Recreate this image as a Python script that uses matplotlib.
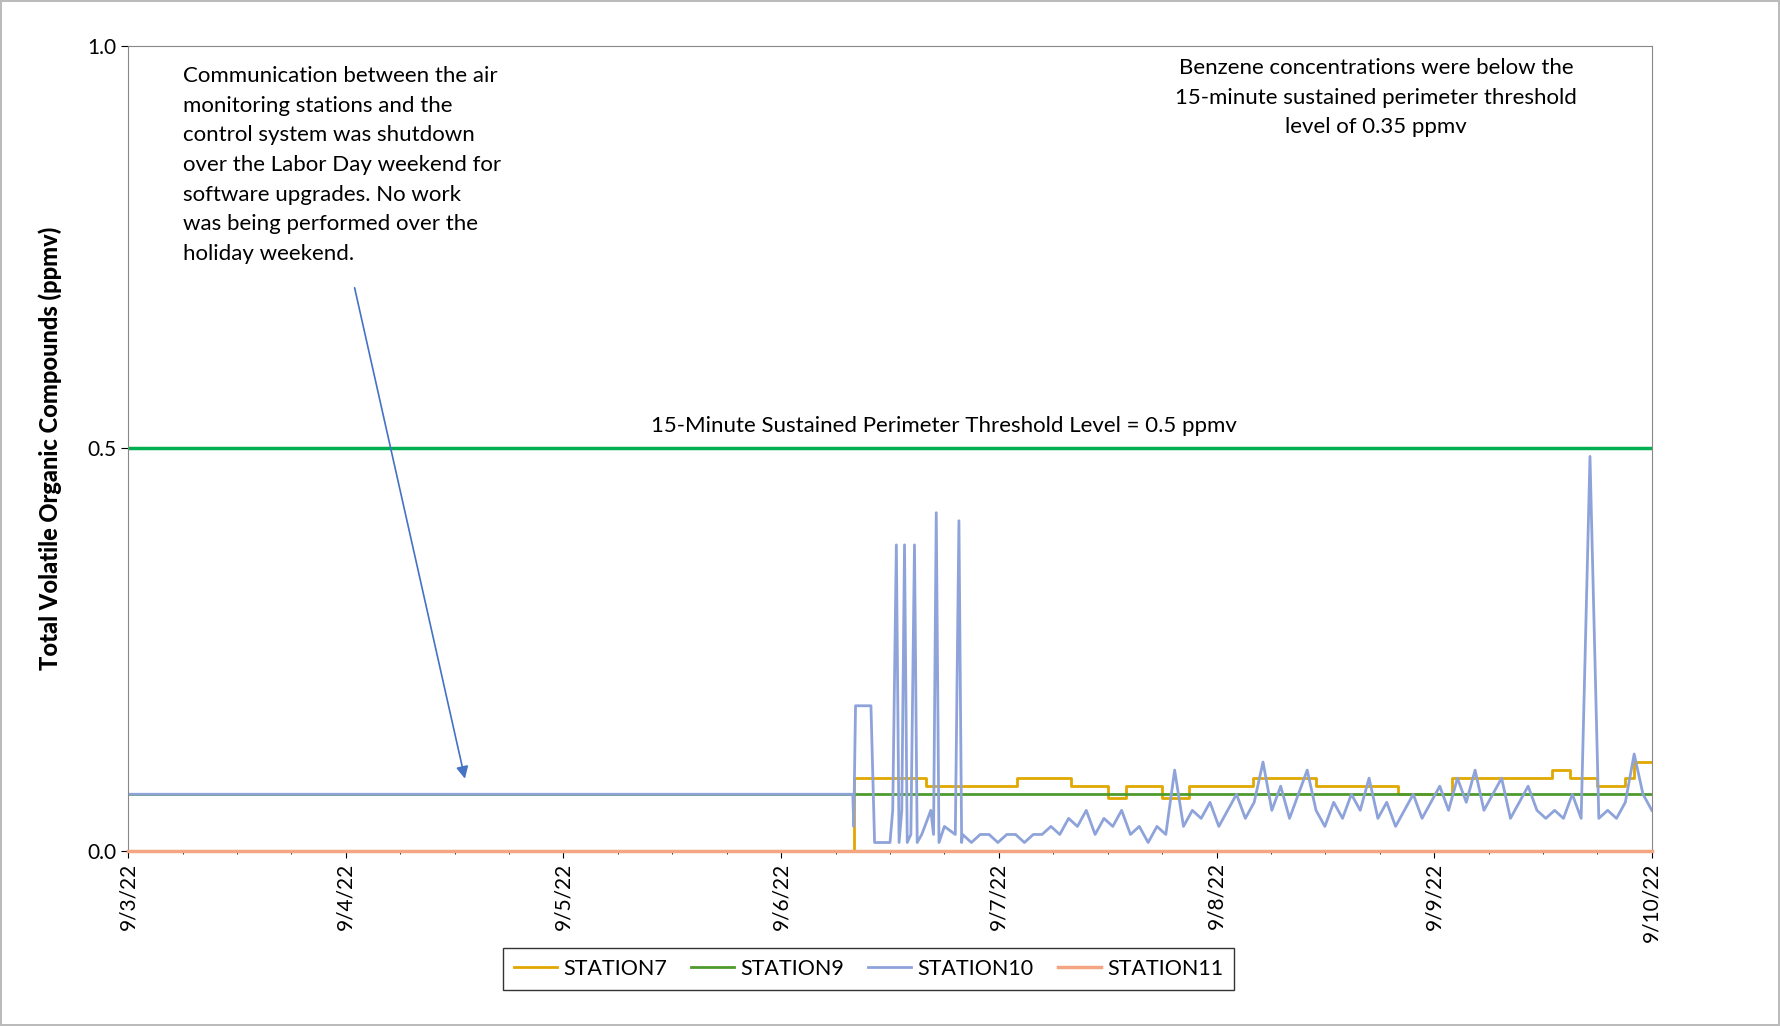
import matplotlib.pyplot as plt
from matplotlib.ticker import MultipleLocator

plt.rcParams['font.family'] = ['Lato', 'DejaVu Sans']

# hours since 9/3/22 00:00
s10_early_t = [0, 79.9, 80.0, 80.2, 81.9, 82.3, 84.0, 84.3, 84.7, 85.0, 85.3, 85.6, 85.9, 86.3, 86.7, 87.0,
               87.5, 88.5, 88.8, 89.1, 89.4, 90.0, 91.2, 91.6, 91.9]
s10_early_v = [0.07, 0.07, 0.03, 0.18, 0.18, 0.01, 0.01, 0.05, 0.38, 0.01, 0.05, 0.38, 0.01, 0.02, 0.38, 0.01,
               0.02, 0.05, 0.02, 0.42, 0.01, 0.03, 0.02, 0.41, 0.01]
s10_late = [0.02, 0.01, 0.02, 0.02, 0.01, 0.02, 0.02, 0.01, 0.02,
            0.02, 0.03, 0.02, 0.04, 0.03, 0.05, 0.02, 0.04, 0.03, 0.05, 0.02, 0.03, 0.01,
            0.03, 0.02, 0.10, 0.03, 0.05, 0.04, 0.06, 0.03,
            0.05, 0.07, 0.04, 0.06, 0.11, 0.05, 0.08, 0.04, 0.07, 0.10, 0.05, 0.03,
            0.06, 0.04, 0.07, 0.05, 0.09, 0.04, 0.06, 0.03, 0.05, 0.07, 0.04, 0.06,
            0.08, 0.05, 0.09, 0.06, 0.10, 0.05, 0.07, 0.09, 0.04, 0.06, 0.08, 0.05,
            0.04, 0.05, 0.04, 0.07, 0.04, 0.49, 0.04, 0.05, 0.04, 0.06, 0.12, 0.07, 0.05]
s10_late_t = [92 + i * 76 / (len(s10_late) - 1) for i in range(len(s10_late))]

s7_t = [0, 80, 88, 98, 104, 108, 110, 114, 117, 124, 131, 140, 146, 157, 159, 162, 165, 166, 168]
s7_v = [0, 0.09, 0.08, 0.09, 0.08, 0.065, 0.08, 0.065, 0.08, 0.09, 0.08, 0.07, 0.09, 0.10, 0.09, 0.08, 0.09, 0.11, 0.11]
s9_t = [0, 80, 168]
s9_v = [0.07, 0.07, 0.07]
s11_t = [0, 168]
s11_v = [0, 0]

day_labels = ['9/3/22', '9/4/22', '9/5/22', '9/6/22', '9/7/22', '9/8/22', '9/9/22', '9/10/22']
threshold = 0.5

fig = plt.figure(figsize=(17.8, 10.26), dpi=100)
fig.patch.set_edgecolor('#bbbbbb')
fig.patch.set_linewidth(1.5)
ax = fig.add_axes((0.072, 0.171, 0.856, 0.784))

ax.plot(s7_t, s7_v, color='#E0A800', lw=2, drawstyle='steps-post', label='STATION7')
ax.plot(s9_t, s9_v, color='#4E9A2E', lw=2, drawstyle='steps-post', label='STATION9')
ax.plot(s10_early_t + s10_late_t, s10_early_v + s10_late, color='#8FA3DB', lw=2, label='STATION10')
ax.plot(s11_t, s11_v, color='#F4A582', lw=2.5, label='STATION11', clip_on=False, zorder=5)
ax.axhline(threshold, color='#00B050', lw=2.5)

ax.set_xlim(0, 168)
ax.set_ylim(0, 1.0)
ax.set_xticks(range(0, 169, 24))
ax.set_xticklabels(day_labels, rotation=90, fontsize=15)
ax.xaxis.set_minor_locator(MultipleLocator(6))
ax.set_yticks([0, 0.5, 1.0])
ax.set_yticklabels(['0.0', '0.5', '1.0'], fontsize=15)
ax.tick_params(direction='out', length=5)
for s in ax.spines.values():
    s.set_color('#888888')
ax.set_ylabel('Total Volatile Organic Compounds (ppmv)', fontsize=17, fontweight='black', labelpad=18)

ax.text(90, 0.515, '15-Minute Sustained Perimeter Threshold Level = 0.5 ppmv', ha='center', va='bottom', fontsize=16)
ax.text(137.6, 0.985, 'Benzene concentrations were below the\n15-minute sustained perimeter threshold\nlevel of 0.35 ppmv',
        ha='center', va='top', fontsize=16, linespacing=1.6)
ax.text(6.1, 0.975, 'Communication between the air\nmonitoring stations and the\ncontrol system was shutdown\n'
        'over the Labor Day weekend for\nsoftware upgrades. No work\nwas being performed over the\nholiday weekend.',
        ha='left', va='top', fontsize=16, linespacing=1.6)
ax.annotate('', xy=(37.2, 0.086), xytext=(24.9, 0.703),
            arrowprops=dict(arrowstyle='-|>', color='#4472C4', lw=1.2, mutation_scale=18))

fig.legend(loc='lower center', bbox_to_anchor=(0.488, 0.025), bbox_transform=fig.transFigure, ncol=4,
           fontsize=15.5, frameon=True, fancybox=False, edgecolor='black', handlelength=2.0,
           columnspacing=1.1, handletextpad=0.3, borderpad=0.5)

fig.savefig('out.png', dpi=100, edgecolor=fig.get_edgecolor())
